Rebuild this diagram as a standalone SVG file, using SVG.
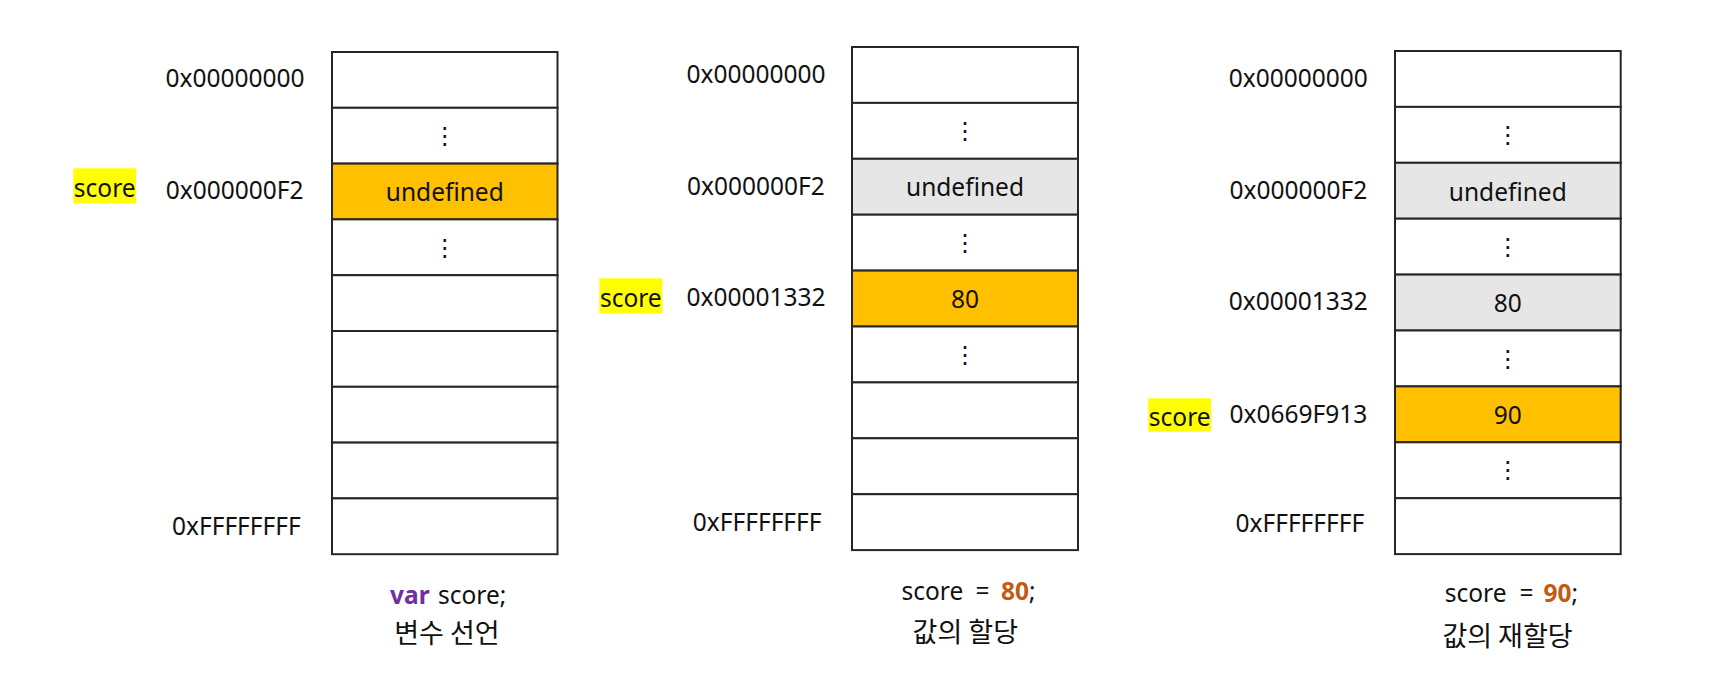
<svg xmlns="http://www.w3.org/2000/svg" width="1730" height="694" viewBox="0 0 1730 694">
<style>
text{font-family:"Noto Sans","Noto Sans CJK KR",sans-serif;font-size:24.5px;fill:#111}
.cell{fill:#fff;stroke:#262626;stroke-width:2}
.hot{fill:#FFC000;stroke:#262626;stroke-width:2}
.old{fill:#E7E6E6;stroke:#262626;stroke-width:2}
.hl{fill:#FFFF00}
.mid{text-anchor:middle}
.dots{font-family:"DejaVu Sans",sans-serif;font-size:24px;text-anchor:middle}
.ko{font-family:"Noto Sans CJK KR",sans-serif;font-size:27px;text-anchor:middle}
.kw{fill:#7030A0;font-weight:bold}
.num{fill:#C55A11;font-weight:bold}
</style>
<rect width="1730" height="694" fill="#fff"/>

<g id="panel1">
  <rect class="cell" x="332" y="52" width="225.5" height="55.8"/>
  <rect class="cell" x="332" y="107.8" width="225.5" height="55.8"/>
  <rect class="hot" x="332" y="163.6" width="225.5" height="55.8"/>
  <rect class="cell" x="332" y="219.4" width="225.5" height="55.8"/>
  <rect class="cell" x="332" y="275.2" width="225.5" height="55.8"/>
  <rect class="cell" x="332" y="331" width="225.5" height="55.8"/>
  <rect class="cell" x="332" y="386.8" width="225.5" height="55.8"/>
  <rect class="cell" x="332" y="442.6" width="225.5" height="55.8"/>
  <rect class="cell" x="332" y="498.4" width="225.5" height="55.8"/>
  <text class="dots" x="444.8" y="144">⋮</text>
  <text class="mid" x="444.8" y="201">undefined</text>
  <text class="dots" x="444.8" y="255.5">⋮</text>
  <text x="165.5" y="86.7">0x00000000</text>
  <text x="165.8" y="199.3">0x000000F2</text>
  <text x="172" y="535">0xFFFFFFFF</text>
  <rect class="hl" x="73.3" y="168.3" width="62.7" height="35"/>
  <text class="mid" x="104.7" y="196.7">score</text>
  <text x="390" y="604"><tspan class="kw">var</tspan><tspan x="438">score;</tspan></text>
  <text class="ko" x="447" y="643">변수 선언</text>
</g>

<g id="panel2">
  <rect class="cell" x="852" y="47" width="226" height="55.9"/>
  <rect class="cell" x="852" y="102.9" width="226" height="55.9"/>
  <rect class="old" x="852" y="158.8" width="226" height="55.9"/>
  <rect class="cell" x="852" y="214.7" width="226" height="55.9"/>
  <rect class="hot" x="852" y="270.6" width="226" height="55.9"/>
  <rect class="cell" x="852" y="326.5" width="226" height="55.9"/>
  <rect class="cell" x="852" y="382.4" width="226" height="55.9"/>
  <rect class="cell" x="852" y="438.3" width="226" height="55.9"/>
  <rect class="cell" x="852" y="494.2" width="226" height="55.9"/>
  <text class="dots" x="965" y="139">⋮</text>
  <text class="mid" x="965" y="196">undefined</text>
  <text class="dots" x="965" y="250.7">⋮</text>
  <text class="mid" x="965" y="307.7">80</text>
  <text class="dots" x="965" y="362.5">⋮</text>
  <text x="686.5" y="83.3">0x00000000</text>
  <text x="687" y="195">0x000000F2</text>
  <text x="686.5" y="306">0x00001332</text>
  <text x="692.8" y="531">0xFFFFFFFF</text>
  <rect class="hl" x="599.3" y="278.3" width="63" height="35"/>
  <text class="mid" x="630.8" y="306.7">score</text>
  <text x="901.5" y="599.5">score<tspan x="975.5">=</tspan><tspan class="num" x="1001">80</tspan>;</text>
  <text class="ko" x="965.3" y="642">값의 할당</text>
</g>

<g id="panel3">
  <rect class="cell" x="1395" y="51" width="225.7" height="55.9"/>
  <rect class="cell" x="1395" y="106.9" width="225.7" height="55.9"/>
  <rect class="old" x="1395" y="162.8" width="225.7" height="55.9"/>
  <rect class="cell" x="1395" y="218.7" width="225.7" height="55.9"/>
  <rect class="old" x="1395" y="274.6" width="225.7" height="55.9"/>
  <rect class="cell" x="1395" y="330.5" width="225.7" height="55.9"/>
  <rect class="hot" x="1395" y="386.4" width="225.7" height="55.9"/>
  <rect class="cell" x="1395" y="442.3" width="225.7" height="55.9"/>
  <rect class="cell" x="1395" y="498.2" width="225.7" height="55.9"/>
  <text class="dots" x="1507.8" y="143">⋮</text>
  <text class="mid" x="1507.8" y="200.5">undefined</text>
  <text class="dots" x="1507.8" y="254.7">⋮</text>
  <text class="mid" x="1507.8" y="311.7">80</text>
  <text class="dots" x="1507.8" y="366.5">⋮</text>
  <text class="mid" x="1507.8" y="424">90</text>
  <text class="dots" x="1507.8" y="478.3">⋮</text>
  <text x="1228.8" y="87.3">0x00000000</text>
  <text x="1229.5" y="199.3">0x000000F2</text>
  <text x="1228.8" y="310">0x00001332</text>
  <text x="1229.5" y="422.7">0x0669F913</text>
  <text x="1235.5" y="532.3">0xFFFFFFFF</text>
  <rect class="hl" x="1148.3" y="398.3" width="62.7" height="33.4"/>
  <text class="mid" x="1179.7" y="426">score</text>
  <text x="1444.8" y="602.3">score<tspan x="1519.5">=</tspan><tspan class="num" x="1543.5">90</tspan>;</text>
  <text class="ko" x="1507.5" y="646">값의 재할당</text>
</g>
</svg>
